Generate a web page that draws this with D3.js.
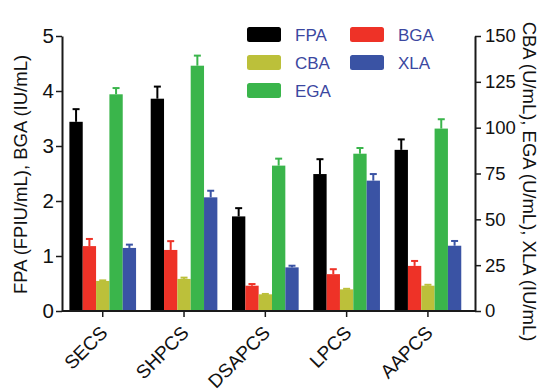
<!DOCTYPE html>
<html>
<head>
<meta charset="utf-8">
<script src="https://cdn.jsdelivr.net/npm/d3@7"></script>
<style>
  html, body { margin: 0; padding: 0; background: #fff; }
  svg { display: block; font-family: "Liberation Sans", Arial, sans-serif; }
</style>
</head>
<body>
<svg id="chart" width="547" height="391"></svg>
<script>
// Enzyme activities per pretreated corn stover sample
const categories = ["SECS", "SHPCS", "DSAPCS", "LPCS", "AAPCS"];
const seriesNames = ["FPA", "BGA", "CBA", "EGA", "XLA"];
const seriesColors = ["#000000", "#ee3227", "#bcc03a", "#3ab54b", "#3a53a4"];
// Which axis each series is read against
const seriesAxis = ["left", "left", "right", "right", "right"];

// Means (FPA, BGA in left units; CBA, EGA, XLA in right units)
const FPA = [3.44, 3.86, 1.72, 2.49, 2.93];
const BGA = [1.18, 1.11, 0.46, 0.67, 0.82];
const CBA = [16.4, 17.5, 9.1, 11.8, 13.8];
const EGA = [118.2, 133.8, 79.3, 85.8, 99.5];
const XLA = [34.4, 62.0, 23.8, 71.1, 35.6];

// Standard deviations
const FPA_sd = [0.23, 0.22, 0.15, 0.27, 0.19];
const BGA_sd = [0.13, 0.16, 0.03, 0.09, 0.09];
const CBA_sd = [0.3, 0.7, 0.2, 0.3, 0.5];
const EGA_sd = [3.4, 5.5, 3.8, 3.1, 5.1];
const XLA_sd = [1.8, 3.6, 0.9, 3.6, 2.6];

const leftTicks = [0, 1, 2, 3, 4, 5];
const rightTicks = [0, 25, 50, 75, 100, 125, 150];

const means = [FPA, BGA, CBA, EGA, XLA];
const sds = [FPA_sd, BGA_sd, CBA_sd, EGA_sd, XLA_sd];

const svg = d3.select("#chart");
const axisColor = "#1a1a1a";
const textColor = "#111";
const legendText = "#3b47a0";
const fontFamily = "Liberation Sans, Arial, sans-serif";

const x0 = d3.scaleBand().domain(categories).range([62, 475])
  .paddingInner(0.18).paddingOuter(0.13).align(0.35);
const x1 = d3.scaleBand().domain(seriesNames).range([0, x0.bandwidth()]).padding(0);
const yL = d3.scaleLinear().domain([0, 5]).range([311, 36]);
const yR = d3.scaleLinear().domain([0, 150]).range([311, 36]);

const rows = [];
categories.forEach((c, ci) => {
  seriesNames.forEach((s, si) => {
    rows.push({ cat: c, name: s, si, v: means[si][ci], sd: sds[si][ci],
                y: seriesAxis[si] === "left" ? yL : yR });
  });
});

// Bars
svg.append("g").selectAll("rect").data(rows).join("rect")
  .attr("x", d => x0(d.cat) + x1(d.name))
  .attr("y", d => d.y(d.v))
  .attr("width", x1.bandwidth())
  .attr("height", d => d.y(0) - d.y(d.v))
  .attr("fill", d => seriesColors[d.si]);

// Error bars (upper only)
const cx = d => x0(d.cat) + x1(d.name) + x1.bandwidth() / 2;
const eb = svg.append("g").selectAll("g").data(rows).join("g")
  .attr("stroke", d => seriesColors[d.si]).attr("stroke-width", 2);
eb.append("line")
  .attr("x1", cx).attr("x2", cx)
  .attr("y1", d => d.y(d.v))
  .attr("y2", d => d.y(d.v + d.sd));
eb.append("line")
  .attr("x1", d => cx(d) - 3.5)
  .attr("x2", d => cx(d) + 3.5)
  .attr("y1", d => d.y(d.v + d.sd))
  .attr("y2", d => d.y(d.v + d.sd));

// Axes
function styleAxis(size) {
  return g => {
    g.selectAll(".domain").attr("stroke", axisColor).attr("stroke-width", 2);
    g.selectAll(".tick line").attr("stroke", axisColor).attr("stroke-width", 1.5);
    g.selectAll(".tick text").attr("fill", textColor)
      .style("font-size", size + "px").style("font-family", fontFamily);
  };
}

svg.append("g").attr("transform", "translate(62,0)")
  .call(d3.axisLeft(yL).tickValues(leftTicks).tickFormat(d3.format("d"))
    .tickSize(6).tickPadding(2).tickSizeOuter(0))
  .call(styleAxis(20.5));

svg.append("g").attr("transform", "translate(475,0)")
  .call(d3.axisRight(yR).tickValues(rightTicks).tickFormat(d3.format("d"))
    .tickSize(6).tickPadding(4).tickSizeOuter(0))
  .call(styleAxis(18.5));

const xg = svg.append("g").attr("transform", "translate(0,311)")
  .call(d3.axisBottom(x0).tickSize(6).tickSizeOuter(0))
  .call(styleAxis(19));
xg.select(".domain").attr("d", "M62,0H475");
xg.selectAll(".tick text")
  .attr("text-anchor", "end")
  .attr("dy", "0")
  .attr("y", 0).attr("x", 0)
  .attr("transform", "translate(6,23) rotate(-45)");

// Axis titles
svg.append("text")
  .attr("transform", "translate(27,174.5) rotate(-90)")
  .attr("text-anchor", "middle")
  .attr("fill", textColor)
  .style("font-size", "18.5px")
  .text("FPA (FPIU/mL), BGA (IU/mL)");

svg.append("text")
  .attr("transform", "translate(523,181.5) rotate(90)")
  .attr("text-anchor", "middle")
  .attr("fill", textColor)
  .style("font-size", "18.5px")
  .text("CBA (U/mL), EGA (U/mL), XLA (IU/mL)");

// Legend
const legendOrder = [
  { si: 0, col: 0, row: 0 }, { si: 1, col: 1, row: 0 },
  { si: 2, col: 0, row: 1 }, { si: 4, col: 1, row: 1 },
  { si: 3, col: 0, row: 2 }
];
const lg = svg.append("g").selectAll("g").data(legendOrder).join("g")
  .attr("transform", d => `translate(${247 + d.col * 103},${27 + d.row * 28})`);
lg.append("rect")
  .attr("width", 34).attr("height", 15).attr("rx", 2.5)
  .attr("fill", d => seriesColors[d.si]);
lg.append("text")
  .attr("x", 48).attr("y", 14)
  .attr("fill", legendText)
  .style("font-size", "17px")
  .text(d => seriesNames[d.si]);
</script>
</body>
</html>
